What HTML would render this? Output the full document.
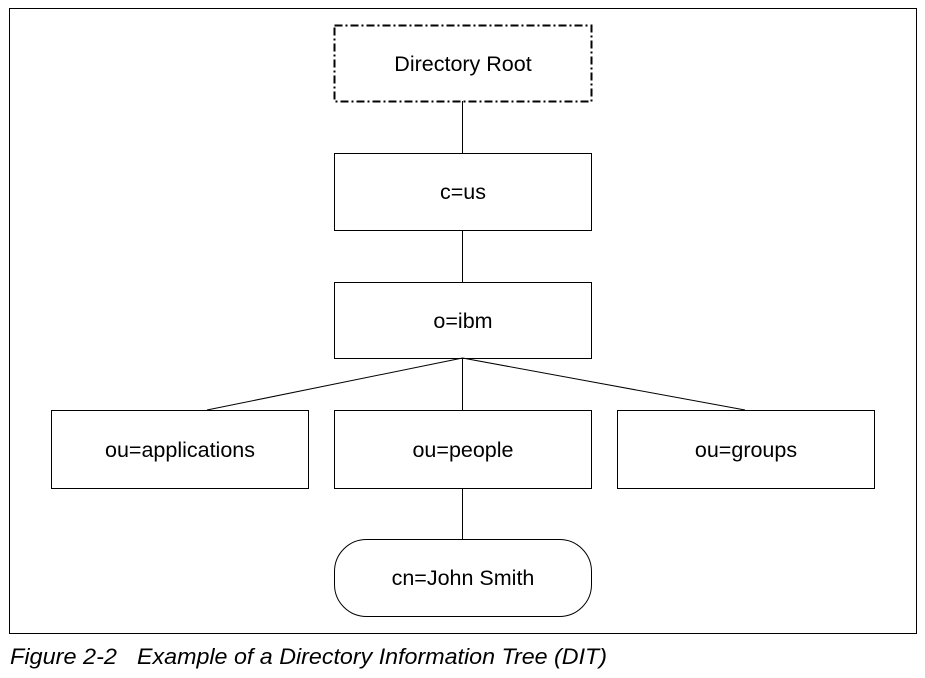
<!DOCTYPE html>
<html><head><style>
body{margin:0;background:#fff;width:925px;height:673px;overflow:hidden}
svg text{font-family:"Liberation Sans",Arial,sans-serif;font-size:21.5px;fill:#000}
</style></head><body>
<svg width="925" height="673" viewBox="0 0 925 673">
<rect x="9.5" y="8.5" width="907" height="625" fill="none" stroke="#000" stroke-width="1"/>
<g stroke="#000" stroke-width="1" fill="none">
<line x1="462.5" y1="101" x2="462.5" y2="153"/>
<line x1="462.5" y1="230" x2="462.5" y2="282"/>
<line x1="462.5" y1="358" x2="462.5" y2="410"/>
<line x1="462.5" y1="358" x2="207" y2="410"/>
<line x1="462.5" y1="358" x2="745" y2="410"/>
<line x1="462.5" y1="488" x2="462.5" y2="539"/>
<rect x="334.5" y="25.5" width="257" height="76" stroke-width="2" stroke-dasharray="8,3,2,3"/>
<rect x="334.5" y="153.5" width="257" height="77"/>
<rect x="334.5" y="282.5" width="257" height="76"/>
<rect x="51.5" y="410.5" width="257" height="78"/>
<rect x="334.5" y="410.5" width="257" height="78"/>
<rect x="617.5" y="410.5" width="257" height="78"/>
<rect x="334.5" y="539.5" width="257" height="77" rx="32" ry="32"/>
</g>
<g text-anchor="middle">
<text x="463" y="71">Directory Root</text>
<text x="463" y="199">c=us</text>
<text x="463" y="328">o=ibm</text>
<text x="180" y="457">ou=applications</text>
<text x="463" y="457">ou=people</text>
<text x="746" y="457">ou=groups</text>
<text x="463" y="585">cn=John Smith</text>
</g>
<text x="10" y="664" textLength="107" lengthAdjust="spacingAndGlyphs" style="font-size:22px;font-style:italic">Figure 2-2</text>
<text x="137" y="664" textLength="470" lengthAdjust="spacingAndGlyphs" style="font-size:22px;font-style:italic">Example of a Directory Information Tree (DIT)</text>
</svg>
</body></html>
